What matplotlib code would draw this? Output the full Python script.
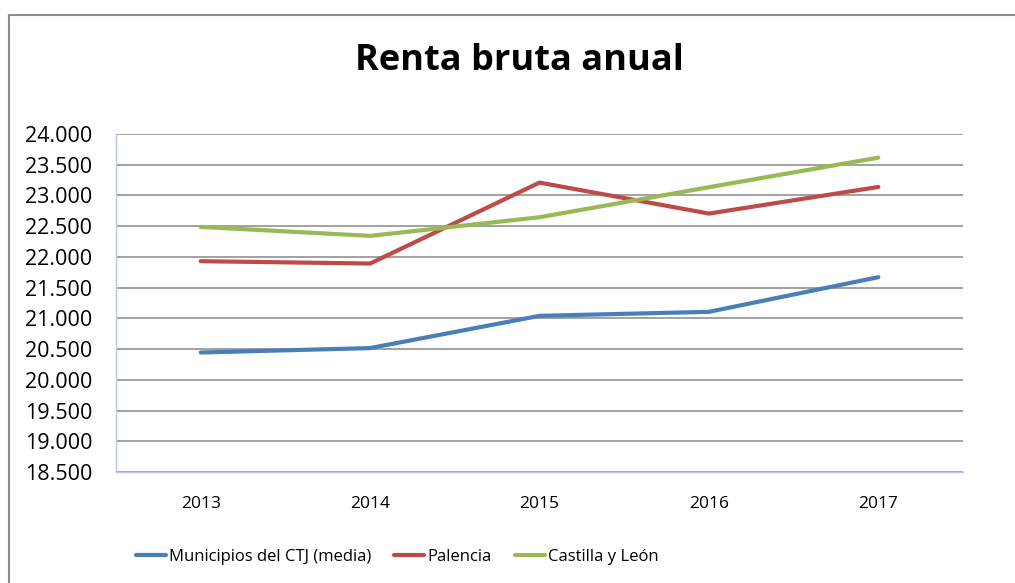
import matplotlib
matplotlib.use("Agg")
import matplotlib.pyplot as plt
from matplotlib.lines import Line2D
from matplotlib.ticker import FuncFormatter, MultipleLocator

plt.rcParams["font.family"] = ["Open Sans", "DejaVu Sans"]

years = ["2013", "2014", "2015", "2016", "2017"]
municipios = [20444, 20516, 21041, 21106, 21670]
palencia = [21930, 21892, 23209, 22705, 23138]
castilla = [22488, 22342, 22645, 23134, 23615]

series_labels = ["Municipios del CTJ (media)", "Palencia", "Castilla y León"]
series_colors = ["#4a7ebb", "#be4b48", "#98b954"]

fig = plt.figure(figsize=(10.15, 5.83), dpi=100)
ax = fig.add_axes([0.1143, 0.1904, 0.8345, 0.5798])

x = range(len(years))
for values, label, color in zip([municipios, palencia, castilla], series_labels, series_colors):
    ax.plot(x, values, color=color, lw=3, label=label,
            solid_capstyle="round", solid_joinstyle="round", zorder=3)

ax.set_xlim(-0.5, len(years) - 0.5)
ax.set_ylim(18500, 24000)
ax.yaxis.set_major_locator(MultipleLocator(500))
ax.yaxis.set_major_formatter(FuncFormatter(lambda v, _: f"{int(v):,}".replace(",", ".")))
ax.set_xticks(list(x))
ax.set_xticklabels(years)

ax.grid(axis="y", color="#878787", lw=1.1)
ax.set_axisbelow(True)
for side in ["top", "right"]:
    ax.spines[side].set_visible(False)
for side in ["left", "bottom"]:
    ax.spines[side].set_color("#b3c8ea")
    ax.spines[side].set_linewidth(1)
ax.tick_params(axis="y", length=0, labelsize=15.5, pad=17)
ax.tick_params(axis="x", length=0, labelsize=12.5, pad=17)

fig.text(519 / 1015, 1 - 61 / 583, "Renta bruta anual", fontsize=26,
         fontweight="bold", ha="center", va="center")

fig.legend(loc="center", bbox_to_anchor=(397 / 1015, 1 - 557 / 583), ncol=3,
           frameon=False, fontsize=12, handlelength=1.8, handletextpad=0.18,
           columnspacing=1.4)

# chart border (left and top edges visible)
fig.add_artist(Line2D([8.5 / 1015, 8.5 / 1015], [0, 1 - 14.5 / 583],
                      transform=fig.transFigure, color="#8c8c8c", lw=1.5))
fig.add_artist(Line2D([8.5 / 1015, 1], [1 - 14.5 / 583, 1 - 14.5 / 583],
                      transform=fig.transFigure, color="#8c8c8c", lw=1.5))

fig.savefig("out.png", dpi=100)
